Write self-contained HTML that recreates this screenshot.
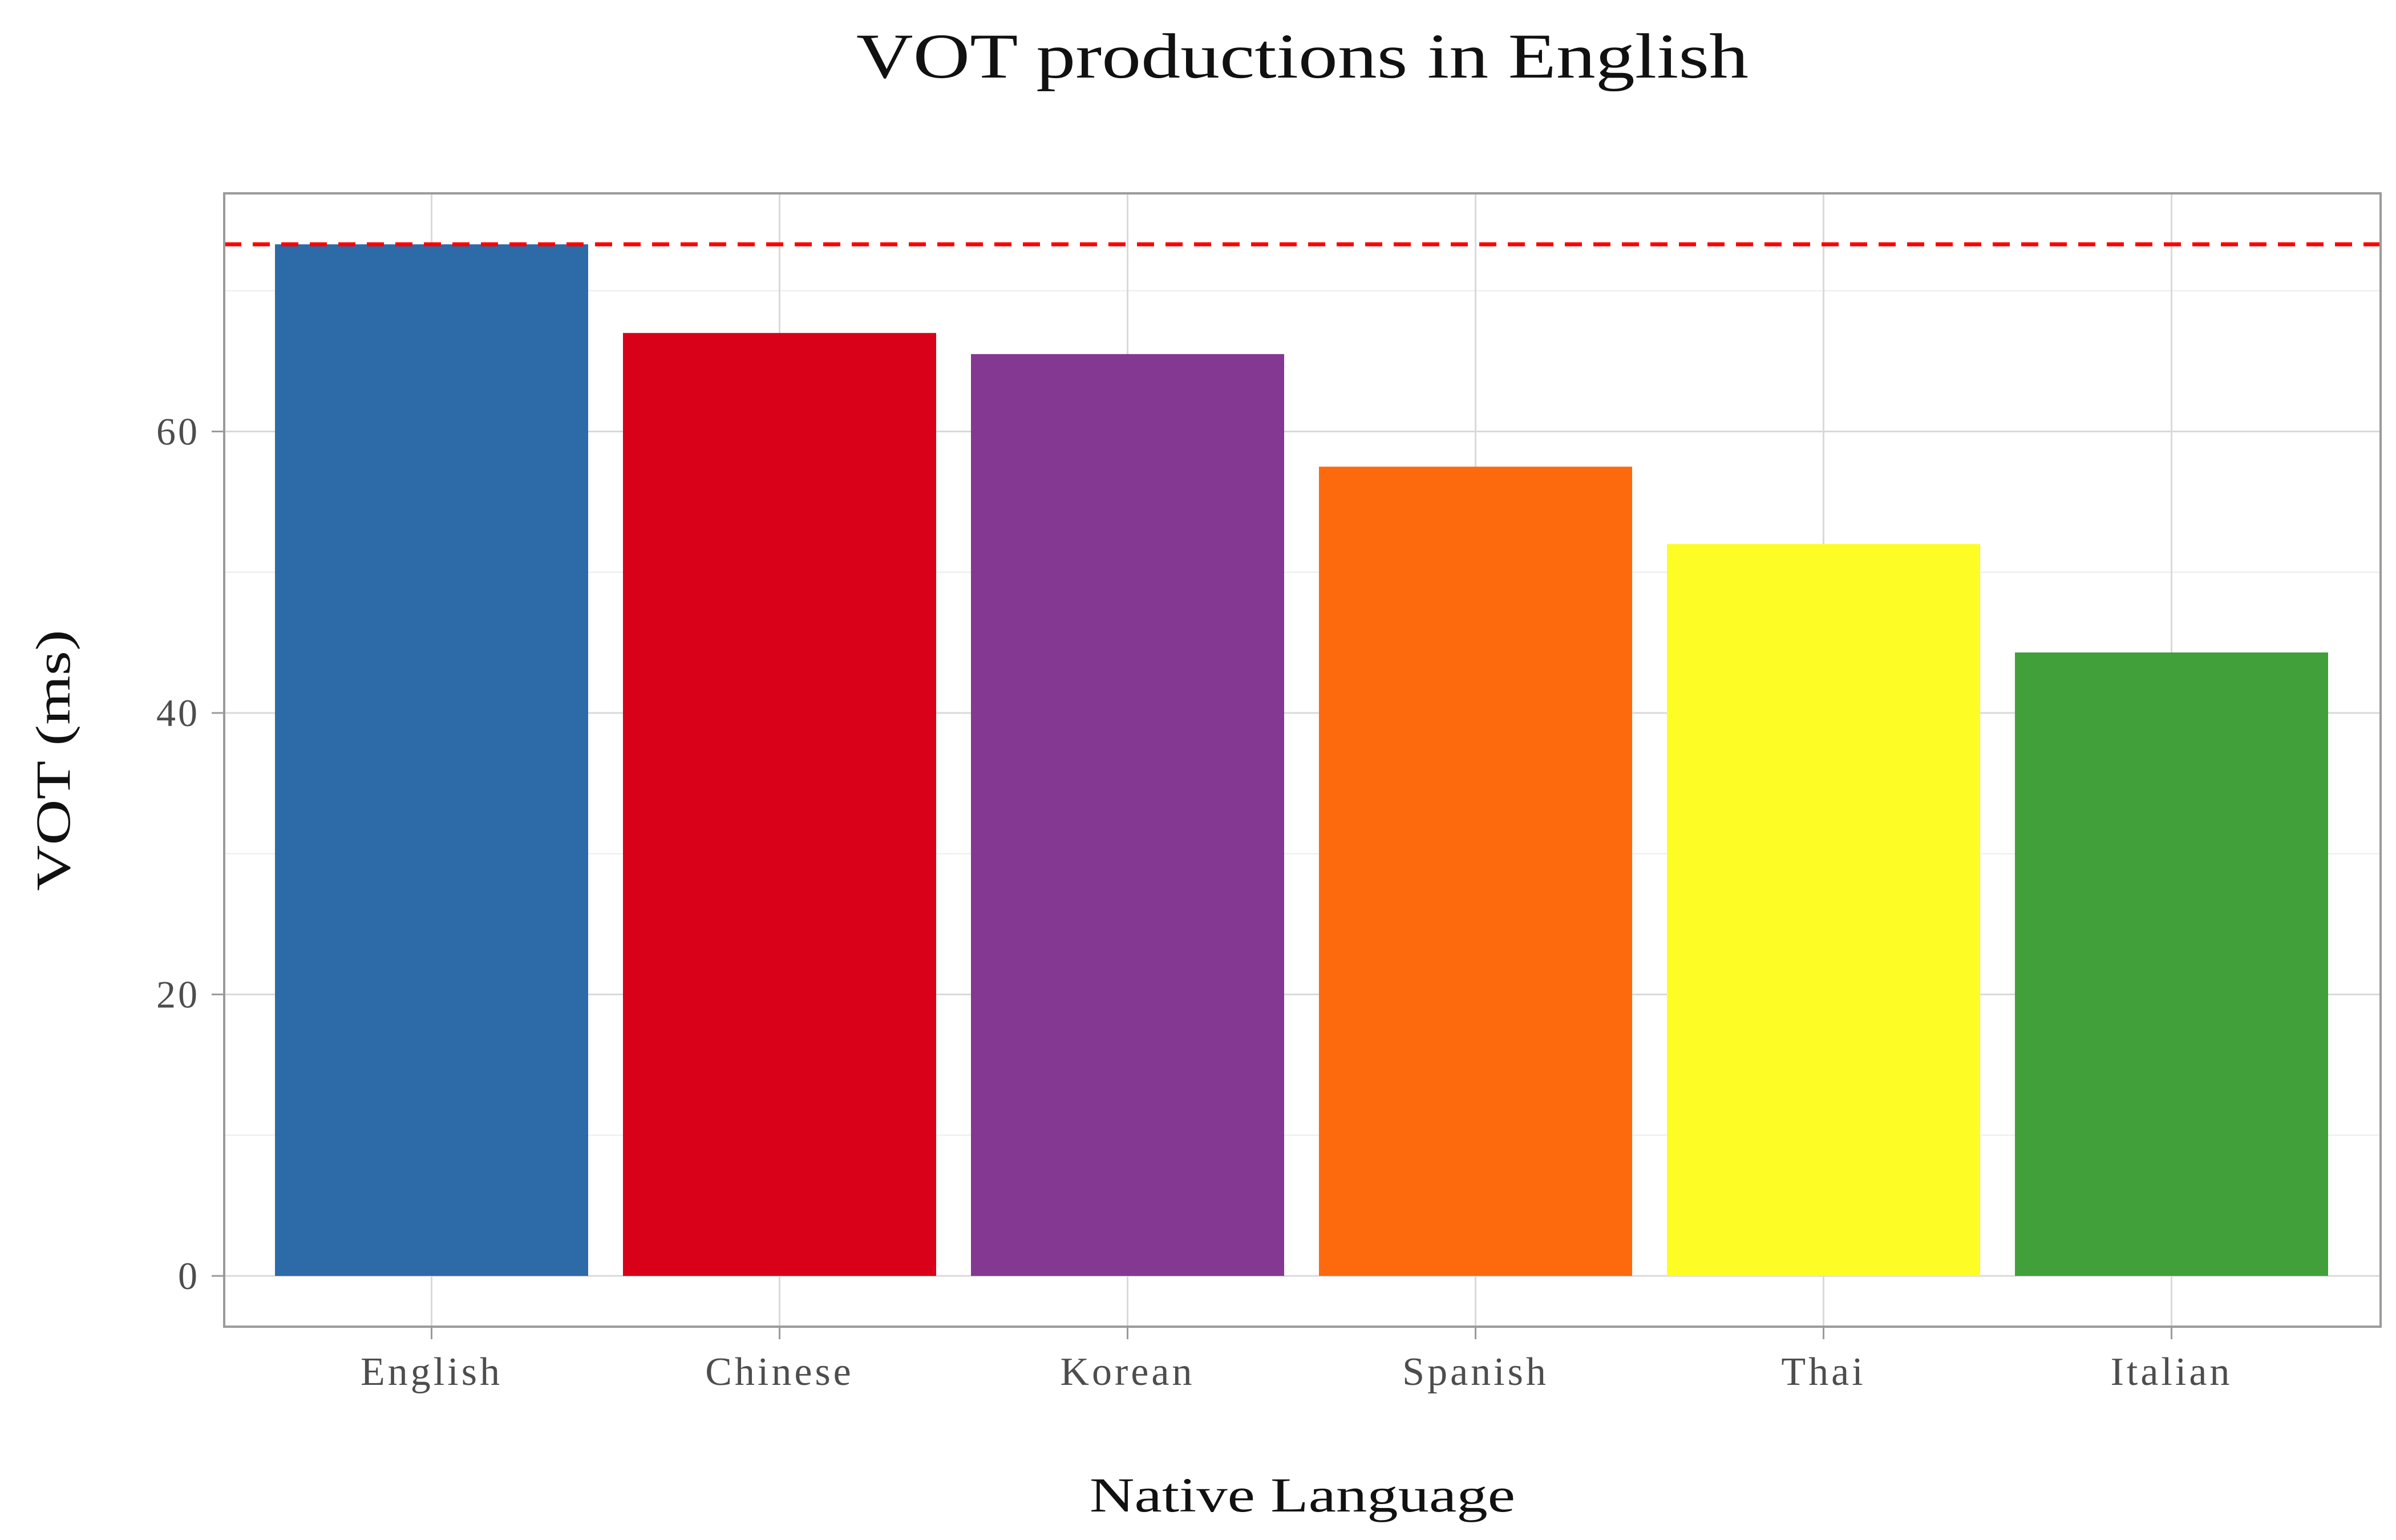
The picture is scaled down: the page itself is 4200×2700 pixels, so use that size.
<!DOCTYPE html>
<html><head><meta charset="utf-8"><style>
html,body{margin:0;padding:0;background:#fff;}
svg{display:block;}
text{font-family:"Liberation Serif",serif;}
</style></head><body>
<svg id="chart" width="4200" height="2700" viewBox="0 0 4200 2700">
<text x="2283" y="136" font-size="112" text-anchor="middle" fill="#111" textLength="1564" lengthAdjust="spacingAndGlyphs">VOT productions in English</text>
<g id="grid"></g>
<g id="bars"></g>
<g id="ref"></g>
<rect x="393" y="339" width="3780" height="1987" fill="none" stroke="#9a9a9a" stroke-width="4"/>
<g id="axes"></g>
<text x="2283" y="2650" font-size="86" text-anchor="middle" fill="#111" textLength="746" lengthAdjust="spacingAndGlyphs">Native Language</text>
<text x="0" y="0" font-size="86" text-anchor="middle" fill="#111" textLength="458" lengthAdjust="spacingAndGlyphs" transform="translate(122,1333) rotate(-90)">VOT (ms)</text>
</svg>
<script>
const categories = ["English","Chinese","Korean","Spanish","Thai","Italian"];
const values = [73.3, 67.0, 65.5, 57.5, 52.0, 44.3];
const colors = ["#2d6aa8","#d90019","#843891","#fd6a0d","#fdfd25","#41a03a"];
const yTicks = [0, 20, 40, 60];
const yMinor = [10, 30, 50, 70];
const refValue = 73.3;

const NS = "http://www.w3.org/2000/svg";
const y0px = 2237, pxPerUnit = 493.5/20;
const y = v => y0px - v*pxPerUnit;
const x0 = 756.5, step = 610, barW = 549;
const x = i => x0 + i*step;
function mk(tag, attrs, parent){const e=document.createElementNS(NS,tag);for(const k in attrs)e.setAttribute(k,attrs[k]);parent.appendChild(e);return e;}
const grid=document.getElementById("grid"), bars=document.getElementById("bars"), axes=document.getElementById("axes"), ref=document.getElementById("ref");
mk("rect",{x:393,y:339,width:3780,height:1987,fill:"#fff"},grid);
yMinor.forEach(v=>{const l=mk("line",{x1:393,x2:4173,y1:y(v),y2:y(v),stroke:"#ececec","stroke-width":2},grid);

});
yTicks.forEach(v=>{const l=mk("line",{x1:393,x2:4173,y1:y(v),y2:y(v),stroke:"#d9d9d9","stroke-width":3},grid);


const t=mk("line",{x1:371,x2:393,y1:y(v),y2:y(v),stroke:"#9a9a9a","stroke-width":3},axes);


const tx=mk("text",{x:350,y:y(v)+23,"font-size":68,"letter-spacing":4,"text-anchor":"end",fill:"#4d4d4d"},axes);tx.textContent=v;

});
categories.forEach((c,i)=>{const g=mk("line",{x1:x(i),x2:x(i),y1:339,y2:2326,stroke:"#d9d9d9","stroke-width":3},grid);


const b=mk("rect",{x:x(i)-barW/2,y:y(values[i]),width:barW,height:y(0)-y(values[i]),fill:colors[i]},bars);


const t=mk("line",{x1:x(i),x2:x(i),y1:2326,y2:2348,stroke:"#9a9a9a","stroke-width":3},axes);


const tx=mk("text",{x:x(i),y:2428,"font-size":70,"letter-spacing":5,"text-anchor":"middle",fill:"#4d4d4d"},axes);tx.textContent=c;

});
const rl=mk("line",{x1:393,x2:4173,y1:y(refValue),y2:y(refValue),stroke:"#ff0000","stroke-width":7,"stroke-dasharray":"30 20"},ref);


</script>
</body></html>
